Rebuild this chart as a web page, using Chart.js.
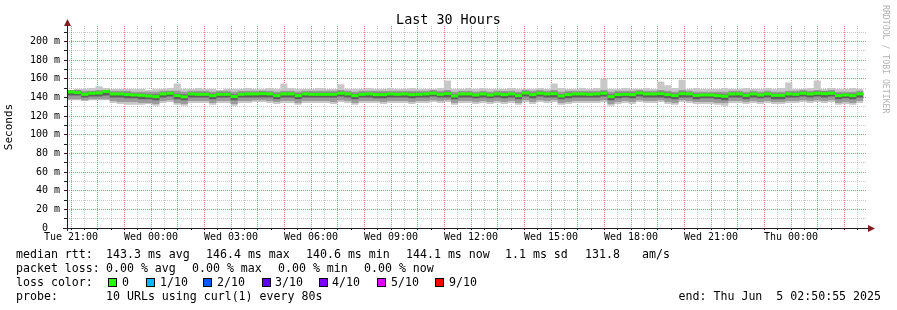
<!DOCTYPE html>
<html>
<head>
<meta charset="utf-8">
<script src="https://cdn.jsdelivr.net/npm/chart.js@4/dist/chart.umd.min.js"></script>
<style>
html,body{margin:0;padding:0;background:#fff;}
#wrap{position:relative;width:897px;height:310px;overflow:hidden;font-family:"DejaVu Sans Mono",monospace;color:#000;}
#wrap canvas{position:absolute;left:0;top:0;}
.t{position:absolute;white-space:pre;font-size:11.6px;line-height:14px;}
#title{position:absolute;left:0;width:897px;top:12px;text-align:center;font-size:13.4px;line-height:15px;white-space:pre;}
#mark{position:absolute;left:881px;top:5px;writing-mode:vertical-rl;font-size:8.2px;line-height:10px;color:#b4b4b4;white-space:pre;}
.box{position:absolute;width:7px;height:7px;border:1px solid #000;top:278px;}
</style>
</head>
<body>
<div id="wrap">
  <canvas id="c" width="897" height="310"></canvas>
  <div id="title">Last 30 Hours</div>
  <div id="mark">RRDTOOL / TOBI OETIKER</div>

  <div class="t" style="left:16px;top:247px">median rtt:</div>
  <div class="t" style="left:106px;top:247px">143.3 ms avg</div>
  <div class="t" style="left:206px;top:247px">146.4 ms max</div>
  <div class="t" style="left:306px;top:247px">140.6 ms min</div>
  <div class="t" style="left:406px;top:247px">144.1 ms now</div>
  <div class="t" style="left:505px;top:247px">1.1 ms sd</div>
  <div class="t" style="left:585px;top:247px">131.8</div>
  <div class="t" style="left:642px;top:247px">am/s</div>

  <div class="t" style="left:16px;top:261px">packet loss:</div>
  <div class="t" style="left:106px;top:261px">0.00 % avg</div>
  <div class="t" style="left:192px;top:261px">0.00 % max</div>
  <div class="t" style="left:278px;top:261px">0.00 % min</div>
  <div class="t" style="left:364px;top:261px">0.00 % now</div>

  <div class="t" style="left:16px;top:275px">loss color:</div>
  <div id="lossLegend"></div>

  <div class="t" style="left:16px;top:289px">probe:</div>
  <div class="t" style="left:106px;top:289px">10 URLs using curl(1) every 80s</div>
  <div class="t" style="right:16px;top:289px">end: Thu Jun  5 02:50:55 2025</div>
</div>
<script>
/* ---------- Data ---------- */
const STEP_MIN = 16;             // consolidated step, minutes
const SPAN_MIN = 1800;           // 30 hours shown
const FIRST_TICK_MIN = 9 + 5/60; // Tue 21:00 is 9:05 after the start (20:50:55)

const xLabels = ["Tue 21:00","Wed 00:00","Wed 03:00","Wed 06:00","Wed 09:00",
                 "Wed 12:00","Wed 15:00","Wed 18:00","Wed 21:00","Thu 00:00"];
const yTickValues = [0,10,20,30,40,50,60,70,80,90,100,110,120,130,140,150,160,170,180,190,200,210];

const lossLabels = ["0","1/10","2/10","3/10","4/10","5/10","9/10"];
const lossColors = ["#26ff00","#00b8ff","#0059ff","#5e00ff","#7e00ff","#dd00ff","#ff0000"];

/* median rtt per step (ms) */
const median = [
  145.8,145.1,143.3,144.4,144.7,146.4,143.7,143.7,143.0,142.6,
  142.2,141.5,140.8,143.7,144.4,141.9,140.6,143.7,143.3,143.3,
  141.9,143.3,143.3,140.8,143.3,143.7,143.7,144.0,143.7,141.9,
  143.7,143.7,141.9,143.7,143.3,143.3,143.3,143.3,144.4,143.7,
  141.9,143.3,143.7,143.0,143.0,143.7,143.3,143.7,143.0,143.3,
  143.7,144.4,143.3,144.0,141.5,143.7,143.7,142.6,143.7,142.6,
  143.7,143.0,143.7,141.9,144.7,143.0,144.4,143.7,144.0,141.5,
  143.0,143.7,143.7,143.3,143.7,144.4,140.8,143.0,143.3,143.0,
  144.7,143.7,143.7,144.0,143.0,141.9,144.0,143.7,142.2,142.6,
  142.6,141.9,141.2,143.7,143.7,142.2,143.7,142.6,143.7,142.2,
  142.2,143.7,143.3,144.4,143.7,144.4,144.0,144.4,141.9,142.6,
  141.9,143.7
];

/* smoke: outer (min/max), middle and inner ping spreads (ms) */
const outerHi = [
  148,149,149,150,152,150,149,149,149,149, 149,148,149,149,150,155,149,149,150,149,
  149,148,149,149,149,150,149,149,150,149, 155,150,149,149,149,150,149,149,154,149,
  149,149,150,149,149,150,149,149,150,149, 149,149,150,158,149,149,150,149,150,149,
  149,149,150,149,149,149,150,149,155,150, 149,149,150,149,150,160,149,149,150,149,
  149,150,149,157,153,150,159,149,150,149, 149,149,150,149,149,150,149,149,150,149,
  150,156,149,149,150,158,149,150,149,149, 150,149
];
const outerLo = [
  137,137,136,137,137,137,134,133,132,132, 132,133,131,134,135,132,131,134,134,134,
  132,134,134,131,134,134,135,135,134,133, 134,134,132,134,134,134,134,133,135,134,
  132,134,134,134,133,134,134,134,133,134, 134,135,134,135,132,134,134,133,134,133,
  134,133,134,132,135,133,135,134,135,132, 133,134,134,134,134,135,131,133,134,133,
  135,134,134,135,133,132,135,134,133,133, 133,132,131,134,134,133,134,133,134,133,
  133,134,134,135,134,135,134,135,132,133, 132,134
];
const midHi = [
  148,148,147,147,148,148,147,147,147,146, 146,146,146,147,147,147,146,147,147,147,
  146,147,147,146,147,147,147,147,147,146, 147,147,146,147,147,147,147,147,148,147,
  146,147,147,147,147,147,147,147,147,147, 147,148,147,148,146,147,147,146,147,146,
  147,147,147,146,148,147,148,147,148,146, 147,147,147,147,147,148,146,147,147,147,
  148,147,147,148,147,146,148,147,146,146, 146,146,146,147,147,146,147,146,147,146,
  146,147,147,148,147,148,147,148,146,146, 146,147
];
const midLo = [
  138,138,137,138,138,138,136,135,135,135, 134,134,133,136,137,134,133,136,136,136,
  134,136,136,133,136,136,137,137,136,135, 136,136,134,136,136,136,136,135,137,136,
  134,136,136,136,135,136,136,136,135,136, 136,137,136,137,134,136,136,135,136,135,
  136,135,136,134,137,135,137,136,137,134, 135,136,136,136,136,137,133,135,136,135,
  137,136,136,137,135,134,137,136,135,135, 135,134,134,136,136,135,136,135,136,135,
  135,136,136,137,136,137,136,137,134,135, 134,136
];
const innerHi = [
  147,147,145,146,146,148,145,145,145,144, 144,143,143,145,146,144,143,145,145,145,
  144,145,145,143,145,145,145,146,145,144, 145,145,144,145,145,145,145,145,146,145,
  144,145,145,145,145,145,145,145,145,145, 145,146,145,146,143,145,145,144,145,144,
  145,145,145,144,146,145,146,145,146,143, 145,145,145,145,145,146,143,145,145,145,
  146,145,145,146,145,144,146,145,144,144, 144,144,143,145,145,144,145,144,145,144,
  144,145,145,146,145,146,146,146,144,144, 144,145
];
const innerLo = [
  142,142,140,141,141,142,140,140,139,139, 138,138,137,140,141,138,137,140,140,140,
  138,140,140,137,140,140,140,140,140,138, 140,140,138,140,140,140,140,140,141,140,
  138,140,140,139,139,140,140,140,139,140, 140,141,140,140,138,140,140,139,140,139,
  140,139,140,138,141,139,141,140,140,138, 139,140,140,140,140,141,137,139,140,139,
  141,140,140,140,139,138,140,140,138,139, 139,138,137,140,140,138,140,139,140,138,
  138,140,140,141,140,141,140,141,138,139, 138,140
];

/* ---------- Styles ---------- */
const MONO  = '"DejaVu Sans Mono", monospace';
const GRID  = "rgba(150,150,150,0.5)";
const MGRID = "rgba(225,75,75,0.72)";
const AXIS  = "#1f1f1f";
const ARROW = "#801f1f";

/* ---------- Helpers ---------- */
const stepPts = arr => arr.map((v,i)=>({x:i*STEP_MIN, y:v}))
  .concat([{x:arr.length*STEP_MIN, y:arr[arr.length-1]}]);
const midPts = arr => arr.map((v,i)=>({x:(i+0.5)*STEP_MIN, y:v}));
const xTickVals = [];
for(let t=FIRST_TICK_MIN; t<SPAN_MIN; t+=30) xTickVals.push(t);
const isHour = v => Math.round((v-FIRST_TICK_MIN)/30)%2===0;

function band(lo, hi, color, order){
  return [
    {data:stepPts(lo), borderWidth:0, borderColor:"transparent", pointRadius:0, fill:false, stepped:true, order},
    {data:stepPts(hi), borderWidth:0, borderColor:"transparent", pointRadius:0, fill:"-1", backgroundColor:color, stepped:true, order}
  ];
}

/* loss color legend */
(function(){
  const boxX  = [108,146,203,262,319,377,435];
  const textX = [122,160,217,275,332,391,449];
  const holder = document.getElementById("lossLegend");
  lossLabels.forEach((l,i)=>{
    holder.insertAdjacentHTML("beforeend",
      `<div class="box" style="left:${boxX[i]}px;background:${lossColors[i]}"></div>`+
      `<div class="t" style="left:${textX[i]}px;top:275px">${l}</div>`);
  });
})();

/* axis lines + arrows, drawn like rrdtool */
const axisArrows = {
  id:"axisArrows",
  afterDraw(chart){
    const {ctx, chartArea:a} = chart;
    ctx.save();
    ctx.strokeStyle = AXIS; ctx.lineWidth = 1;
    ctx.beginPath();
    ctx.moveTo(a.left-4, a.bottom+0.5); ctx.lineTo(a.right+3, a.bottom+0.5);
    ctx.moveTo(a.left+0.5, a.bottom+3); ctx.lineTo(a.left+0.5, a.top-3);
    ctx.stroke();
    ctx.fillStyle = ARROW;
    ctx.beginPath();
    ctx.moveTo(a.left+0.5, a.top-7); ctx.lineTo(a.left-3, a.top); ctx.lineTo(a.left+4, a.top);
    ctx.closePath(); ctx.fill();
    ctx.beginPath();
    ctx.moveTo(a.right+8, a.bottom+0.5); ctx.lineTo(a.right+1, a.bottom-3); ctx.lineTo(a.right+1, a.bottom+4);
    ctx.closePath(); ctx.fill();
    ctx.restore();
  }
};

/* ---------- Chart ---------- */
new Chart(document.getElementById("c"), {
  type:"line",
  data:{datasets:[
    ...band(outerLo, outerHi, "#c8c8c8", 3),
    ...band(midLo,   midHi,   "#9a9a9a", 2),
    ...band(innerLo, innerHi, "#5e5e5e", 1),
    {data:midPts(median), showLine:false, pointStyle:"line", pointRadius:3.6,
     pointBorderWidth:3, pointBorderColor:lossColors[0], pointBackgroundColor:lossColors[0], order:0}
  ]},
  options:{
    responsive:false, animation:false, devicePixelRatio:1, events:[],
    layout:{padding:{top:26,right:30,bottom:0,left:0}},
    plugins:{legend:{display:false}, tooltip:{enabled:false}},
    scales:{
      x:{type:"linear", min:0, max:SPAN_MIN, z:1,
        afterBuildTicks:s=>{ s.ticks = xTickVals.map(v=>({value:v})); },
        afterFit:s=>{ s.height = 82; },
        ticks:{autoSkip:false, maxRotation:0, padding:1, color:"#000",
          font:{family:MONO, size:10},
          callback:(v,i)=> i%6===0 ? xLabels[i/6] : ""},
        grid:{color:c=> c.tick && isHour(c.tick.value) ? MGRID : GRID, lineWidth:1,
          tickLength:2, tickColor:AXIS},
        border:{display:false, dash:[1,1]}
      },
      y:{min:0, max:216.5, z:1,
        afterBuildTicks:s=>{ s.ticks = yTickValues.map(v=>({value:v})); },
        afterFit:s=>{ s.width = 67; },
        ticks:{autoSkip:false, padding:4, color:"#000",
          font:{family:MONO, size:10},
          callback:v=> v%20!==0 ? "" : (v===0 ? "0  " : v+" m")},
        grid:{color:c=> c.tick && c.tick.value%20===0 ? MGRID : GRID, lineWidth:1,
          tickLength:3, tickColor:AXIS},
        border:{display:false, dash:[1,1]},
        title:{display:true, text:"Seconds", color:"#000",
          font:{family:MONO, size:11}, padding:{top:3,bottom:0}}
      }
    }
  },
  plugins:[axisArrows]
});
</script>
</body>
</html>
